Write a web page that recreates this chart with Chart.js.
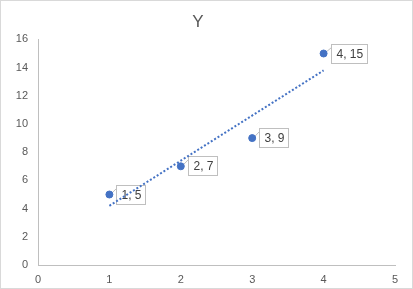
<!DOCTYPE html>
<html>
<head>
<meta charset="utf-8">
<script src="https://cdn.jsdelivr.net/npm/chart.js@4/dist/chart.umd.min.js"></script>
<style>
  html, body { margin: 0; padding: 0; background: #fff; }
  #wrap { width: 411px; height: 287px; border: 1px solid #d9d9d9; position: relative; }
</style>
</head>
<body>
<div id="wrap"><canvas id="chart" width="411" height="287"></canvas></div>
<script>
// chart values
const xValues = [1, 2, 3, 4];
const yValues = [5, 7, 9, 15];
const trendX = [1, 4];
const trendY = [4.2, 13.8];
const xTicks = [0, 1, 2, 3, 4, 5];
const yTicks = [0, 2, 4, 6, 8, 10, 12, 14, 16];

const blue = '#4472C4';
const textColor = '#595959';
const fontFamily = "'Liberation Sans', Arial, sans-serif";

const points = xValues.map((x, i) => ({ x: x, y: yValues[i] }));
const trend = trendX.map((x, i) => ({ x: x, y: trendY[i] }));

// boxed "x, y" labels next to each point, like Excel's callouts
// drawn before the datasets so the dotted trend line sits on top
const labelBoxes = {
  id: 'labelBoxes',
  beforeDatasetsDraw(chart) {
    const ctx = chart.ctx;
    const xs = chart.scales.x, ys = chart.scales.y;
    ctx.save();
    ctx.font = '12px ' + fontFamily;
    ctx.textBaseline = 'middle';
    xValues.forEach((xv, i) => {
      const px = xs.getPixelForValue(xv);
      const py = ys.getPixelForValue(yValues[i]);
      const text = xv + ', ' + yValues[i];
      const w = Math.round(ctx.measureText(text).width) + 9;
      const h = 19;
      const left = Math.round(px) + 7.5;
      const top = Math.round(py) - 9.5;
      // leader line
      ctx.strokeStyle = '#bfbfbf';
      ctx.lineWidth = 1;
      ctx.beginPath();
      ctx.moveTo(px + 2, py - 1);
      ctx.lineTo(left, top + 3);
      ctx.stroke();
      ctx.fillStyle = '#fff';
      ctx.fillRect(left, top, w, h);
      ctx.strokeRect(left, top, w, h);
      ctx.fillStyle = '#404040';
      ctx.fillText(text, left + 5, top + h / 2 + 0.5);
    });
    ctx.restore();
  }
};

new Chart(document.getElementById('chart'), {
  type: 'scatter',
  data: {
    datasets: [{
      label: 'Y',
      data: points,
      backgroundColor: blue,
      borderColor: blue,
      pointRadius: 3.5,
      pointHoverRadius: 3.5
    }, {
      label: 'Trend',
      data: trend,
      type: 'line',
      showLine: true,
      borderColor: blue,
      borderWidth: 2,
      borderDash: [2, 2],
      pointRadius: 0,
      fill: false
    }]
  },
  plugins: [labelBoxes],
  options: {
    responsive: false,
    animation: false,
    layout: { padding: { left: 0, right: 17, top: 0, bottom: 0 } },
    plugins: {
      legend: { display: false },
      tooltip: { enabled: false },
      title: {
        display: true,
        text: 'Y',
        color: textColor,
        font: { family: fontFamily, size: 17, weight: 'normal' },
        padding: { top: 11, bottom: 7 }
      }
    },
    scales: {
      x: {
        type: 'linear',
        min: 0,
        max: 5,
        afterBuildTicks: (scale) => { scale.ticks = xTicks.map(v => ({ value: v })); },
        afterFit: (scale) => { scale.height = 23; },
        grid: { display: false, drawTicks: false },
        border: { display: true, color: '#bfbfbf', width: 1 },
        ticks: {
          color: textColor,
          padding: 8,
          font: { family: fontFamily, size: 11 }
        }
      },
      y: {
        type: 'linear',
        min: 0,
        max: 16,
        afterBuildTicks: (scale) => { scale.ticks = yTicks.map(v => ({ value: v })); },
        afterFit: (scale) => { scale.width = 37; },
        grid: { display: false, drawTicks: false },
        border: { display: true, color: '#bfbfbf', width: 1 },
        ticks: {
          color: textColor,
          padding: 10,
          font: { family: fontFamily, size: 11 }
        }
      }
    }
  }
});
</script>
</body>
</html>
